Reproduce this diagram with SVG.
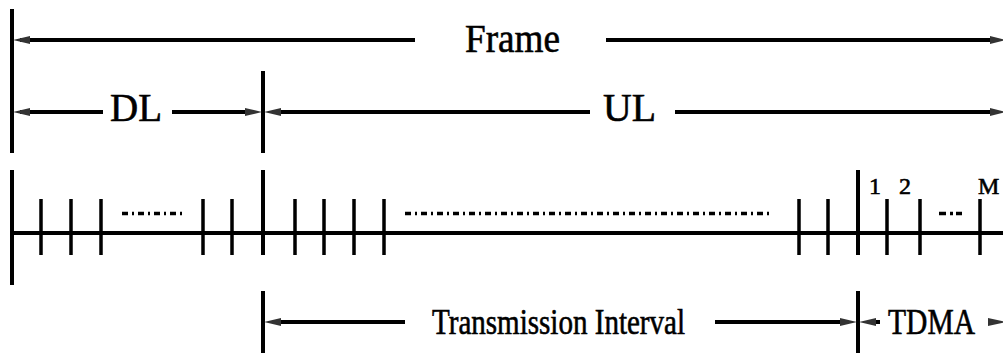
<svg xmlns="http://www.w3.org/2000/svg" width="1003" height="353" viewBox="0 0 1003 353">
<style>
.ln{stroke:#000;stroke-width:4;fill:none}
.tk{stroke:#000;stroke-width:3.5;fill:none}
.dd{stroke:#000;stroke-width:3.5;fill:none;stroke-dasharray:6 4 2 4}
.ah{fill:#333}
.lbl{font-family:"Liberation Serif","Times New Roman",serif;fill:#000;stroke:#000;stroke-width:0.6}
.big{font-size:40px}
.mid{font-size:35px}
.sm{font-size:24px}
</style>
<rect width="1003" height="353" fill="#fff"/>
<g id="boundaries">
<line class="ln" x1="12" y1="9" x2="12" y2="153"/>
<line class="ln" x1="12" y1="170" x2="12" y2="285"/>
<line class="ln" x1="263" y1="71" x2="263" y2="153"/>
<line class="ln" x1="263" y1="170" x2="263" y2="255"/>
<line class="ln" x1="263" y1="291" x2="263" y2="353"/>
<line class="ln" x1="858" y1="170" x2="858" y2="255"/>
<line class="ln" x1="858" y1="291" x2="858" y2="353"/>
</g>
<g id="slot-axis">
<line class="ln" x1="12" y1="233" x2="1003" y2="233"/>
<path class="tk" d="M41 199V255M71 199V255M101 199V255M203 199V255M232 199V255M295 199V255M324 199V255M354 199V255M384 199V255M799 199V255M828 199V255M887 199V255M920 199V255M980 199V255"/>
<line class="dd" x1="122" y1="213.5" x2="185" y2="213.5"/>
<line class="dd" x1="405" y1="213.5" x2="773" y2="213.5"/>
<line class="tk" x1="939" y1="213.5" x2="962" y2="213.5" style="stroke-dasharray:7 4 3 3 7"/>
</g>
<g id="connectors">
<line class="ln" x1="20" y1="40" x2="415" y2="40"/>
<line class="ln" x1="606" y1="40" x2="995" y2="40"/>
<polygon class="ah" points="13,40 30,36 30,44"/>
<polygon class="ah" points="1006,40 990,36 990,44"/>
<line class="ln" x1="20" y1="112" x2="103" y2="112"/>
<line class="ln" x1="172" y1="112" x2="252" y2="112"/>
<polygon class="ah" points="13,112 30,108 30,116"/>
<polygon class="ah" points="262,112 245,108 245,116"/>
<line class="ln" x1="274" y1="112" x2="590" y2="112"/>
<line class="ln" x1="675" y1="112" x2="995" y2="112"/>
<polygon class="ah" points="264,112 281,108 281,116"/>
<polygon class="ah" points="1006,112 990,108 990,116"/>
<line class="ln" x1="274" y1="322" x2="405" y2="322"/>
<line class="ln" x1="715" y1="322" x2="848" y2="322"/>
<polygon class="ah" points="264,322 281,318 281,326"/>
<polygon class="ah" points="857,322 840,318 840,326"/>
<line class="ln" x1="868" y1="322" x2="880" y2="322"/>
<polygon class="ah" points="859,322 876,318 876,326"/>
<polygon class="ah" points="1006,322 988,318 988,326"/>
</g>
<g id="label-frame"><text class="lbl big" x="465" y="52" textLength="95" lengthAdjust="spacingAndGlyphs">Frame</text></g>
<g id="label-dl"><text class="lbl big" x="110" y="121" textLength="52" lengthAdjust="spacingAndGlyphs">DL</text></g>
<g id="label-ul"><text class="lbl big" x="603" y="121" textLength="53" lengthAdjust="spacingAndGlyphs">UL</text></g>
<g id="label-ti"><text class="lbl mid" x="432" y="334" textLength="253" lengthAdjust="spacingAndGlyphs">Transmission Interval</text></g>
<g id="label-tdma"><text class="lbl mid" x="888" y="334" textLength="87" lengthAdjust="spacingAndGlyphs">TDMA</text></g>
<g id="slot-labels">
<text class="lbl sm" x="869" y="194">1</text>
<text class="lbl sm" x="899" y="194">2</text>
<text class="lbl sm" x="978" y="194">M</text>
</g>
</svg>
